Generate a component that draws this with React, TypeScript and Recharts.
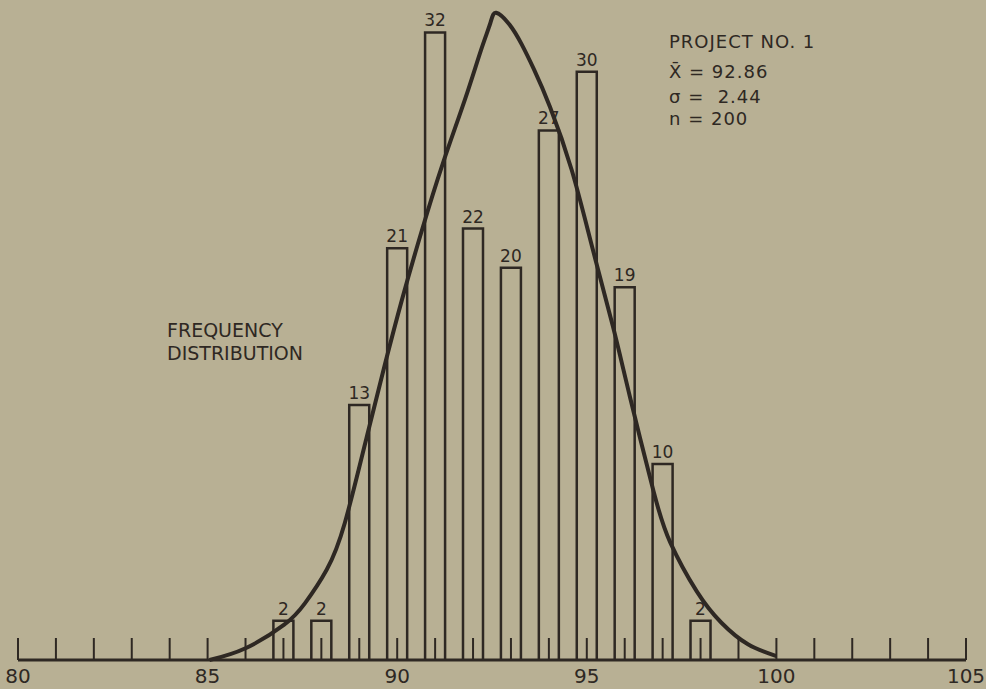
import { ComposedChart, Bar, Line, XAxis, YAxis, LabelList } from 'recharts'

const ink = '#2e2823'
const paper = '#b8b094'

// histogram classes and counts
const classes = [87, 88, 89, 90, 91, 92, 93, 94, 95, 96, 97, 98]
const counts = [2, 2, 13, 21, 32, 22, 20, 27, 30, 19, 10, 2]

// hand drawn normal curve
const curveX = [85.05, 86.0, 87.02, 87.57, 88.14, 88.62, 89.2, 89.68, 90.13, 90.65, 91.2, 91.79, 92.21, 92.46, 92.61, 92.96, 93.28, 93.61, 94.03, 94.6, 95.15, 95.69, 96.14, 96.76, 97.2, 97.9, 98.55, 99.25, 100.0]
const curveY = [0, 0.6, 1.8, 2.9, 4.6, 7.0, 11.4, 15.1, 18.4, 21.9, 25.3, 28.6, 31.1, 32.5, 33.0, 32.4, 31.4, 30.1, 28.2, 25.0, 21.0, 17.0, 13.4, 8.6, 6.0, 3.5, 1.9, 0.8, 0.2]

const axisTicks = [80, 81, 82, 83, 84, 85, 86, 87, 88, 89, 90, 91, 92, 93, 94, 95, 96, 97, 98, 99, 100, 101, 102, 103, 104, 105]

const statLines = ['PROJECT NO. 1', 'X\u0304 = 92.86', '\u03C3 =  2.44', 'n = 200']
const statBaselines = [48, 78, 103, 125]
const noteLines = ['FREQUENCY', 'DISTRIBUTION']

const barData = classes.map((x, i) => ({ x, count: counts[i] }))
const curveData = curveX.map((x, i) => ({ x, y: curveY[i] }))

const font = '"DejaVu Sans", sans-serif'
const BAR_W = 20

// open box: left, top and right sides only, the axis closes it
const OpenBar = (props: any) => {
  const { x, y, width, height } = props
  if (height <= 0) return null
  const cx = x + width / 2
  const l = cx - BAR_W / 2
  const r = cx + BAR_W / 2
  return (
    <path
      d={`M${l},${y + height} L${l},${y} L${r},${y} L${r},${y + height}`}
      fill="none"
      stroke={ink}
      strokeWidth={2.5}
    />
  )
}

export default function App() {
  return (
    <div style={{ position: 'fixed', left: 0, top: 0, width: 986, height: 689, background: paper, overflow: 'hidden' }}>
      <ComposedChart width={986} height={689} data={barData} margin={{ top: 3, right: 20, left: 18, bottom: 0 }}>
        <XAxis
          dataKey="x"
          type="number"
          domain={[80, 105]}
          ticks={axisTicks}
          interval={0}
          height={29}
          tickSize={-22}
          tickMargin={31}
          tickFormatter={(v: number) => (v % 5 === 0 ? String(v) : '')}
          axisLine={{ stroke: ink, strokeWidth: 3 }}
          tickLine={{ stroke: ink, strokeWidth: 2 }}
          tick={{ fill: ink, fontSize: 20, fontFamily: font }}
        />
        <YAxis hide domain={[0, 33.5]} />
        <Bar dataKey="count" barSize={BAR_W} shape={OpenBar} isAnimationActive={false}>
          <LabelList dataKey="count" position="top" offset={6} fill={ink} fontSize={17} fontFamily={font} />
        </Bar>
        <Line
          data={curveData}
          dataKey="y"
          type="natural"
          stroke={ink}
          strokeWidth={4}
          dot={false}
          activeDot={false}
          isAnimationActive={false}
        />
      </ComposedChart>
      <svg width={986} height={689} style={{ position: 'absolute', left: 0, top: 0, pointerEvents: 'none' }}>
        {statLines.map((t, i) => (
          <text key={t} x={669} y={statBaselines[i]} fill={ink} fontSize={18} letterSpacing={1} fontFamily={font} style={{ whiteSpace: 'pre' }}>
            {t}
          </text>
        ))}
        {noteLines.map((t, i) => (
          <text key={t} x={167} y={337 + i * 23} fill={ink} fontSize={19} fontFamily={font}>
            {t}
          </text>
        ))}
      </svg>
    </div>
  )
}
